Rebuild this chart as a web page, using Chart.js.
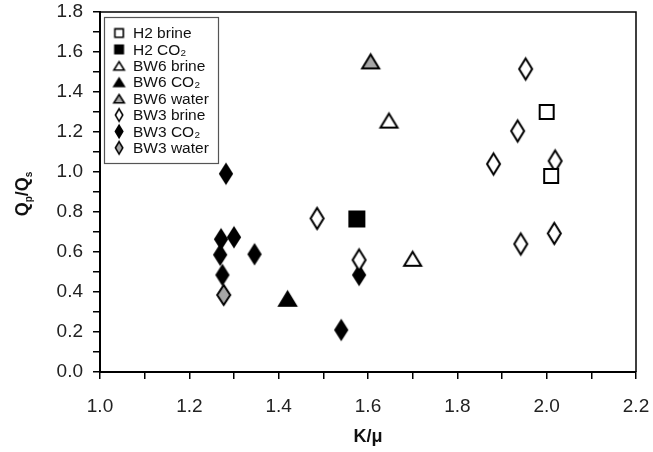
<!DOCTYPE html>
<html>
<head>
<meta charset="utf-8">
<script src="https://cdn.jsdelivr.net/npm/chart.js@4"></script>
<style>
  html, body { margin: 0; padding: 0; background: #fff; }
  #wrap { width: 653px; height: 452px; }
</style>
</head>
<body>
<div id="wrap"><canvas id="qChart"></canvas></div>
<script>
// K/mu (x) and Qp/Qs (y) for each core and fluid
const h2BrineK = [2.00, 2.01];
const h2BrineQ = [1.30, 0.98];
const h2Co2K = [1.575];
const h2Co2Q = [0.765];
const bw6BrineK = [1.647, 1.700];
const bw6BrineQ = [1.257, 0.566];
const bw6Co2K = [1.420];
const bw6Co2Q = [0.366];
const bw6WaterK = [1.606];
const bw6WaterQ = [1.553];
const bw3BrineK = [1.953, 1.935, 1.881, 2.019, 1.942, 2.017, 1.580, 1.486];
const bw3BrineQ = [1.515, 1.205, 1.040, 1.055, 0.640, 0.693, 0.560, 0.768];
const bw3Co2K = [1.282, 1.271, 1.300, 1.269, 1.346, 1.274, 1.580, 1.540];
const bw3Co2Q = [0.991, 0.664, 0.674, 0.586, 0.589, 0.485, 0.485, 0.210];
const bw3WaterK = [1.277];
const bw3WaterQ = [0.385];

const xTicks = { min: 1.0, max: 2.2, step: 0.1 };
const yTicks = { min: 0.0, max: 1.8, step: 0.1 };

const GRAY = '#a6a6a6';
const FONT = '"Liberation Sans", Arial, sans-serif';

// builds a small canvas used as a point style
function marker(shape, fill, w, h, lw) {
    const c = document.createElement('canvas');
    c.width = w + lw * 2;
    c.height = h + lw * 2;
    const g = c.getContext('2d');
    g.translate(lw, lw);
    g.beginPath();
    if (shape === 'square') {
        g.rect(lw / 2, lw / 2, w - lw, h - lw);
    } else if (shape === 'triangle') {
        g.moveTo(w / 2, lw / 2);
        g.lineTo(w - lw / 2, h - lw / 2);
        g.lineTo(lw / 2, h - lw / 2);
        g.closePath();
    } else {
        g.moveTo(w / 2, lw / 2);
        g.lineTo(w - lw / 2, h / 2);
        g.lineTo(w / 2, h - lw / 2);
        g.lineTo(lw / 2, h / 2);
        g.closePath();
    }
    g.fillStyle = fill;
    g.fill();
    g.lineJoin = 'miter';
    g.lineWidth = lw;
    g.strokeStyle = '#000';
    g.stroke();
    return c;
}

function pts(xs, ys) {
    return xs.map((x, i) => ({ x: x, y: ys[i] }));
}

const series = [
    { label: 'H2 brine',   xs: h2BrineK,  ys: h2BrineQ,  shape: 'square',   fill: '#fff', w: 16, h: 16 },
    { label: 'H2 CO₂',     xs: h2Co2K,    ys: h2Co2Q,    shape: 'square',   fill: '#000', w: 17, h: 17 },
    { label: 'BW6 brine',  xs: bw6BrineK, ys: bw6BrineQ, shape: 'triangle', fill: '#fff', w: 19, h: 16 },
    { label: 'BW6 CO₂',    xs: bw6Co2K,   ys: bw6Co2Q,   shape: 'triangle', fill: '#000', w: 19, h: 16 },
    { label: 'BW6 water',  xs: bw6WaterK, ys: bw6WaterQ, shape: 'triangle', fill: GRAY,   w: 19, h: 16 },
    { label: 'BW3 brine',  xs: bw3BrineK, ys: bw3BrineQ, shape: 'diamond',  fill: '#fff', w: 15, h: 23 },
    { label: 'BW3 CO₂',    xs: bw3Co2K,   ys: bw3Co2Q,   shape: 'diamond',  fill: '#000', w: 14, h: 21 },
    { label: 'BW3 water',  xs: bw3WaterK, ys: bw3WaterQ, shape: 'diamond',  fill: GRAY,   w: 15, h: 22 }
];

series.forEach(s => {
    s.icon = marker(s.shape, s.fill, s.w, s.h, 2);
    const small = s.shape === 'diamond' ? [9, 14] : s.shape === 'triangle' ? [12, 10] : [10, 10];
    s.legendIcon = marker(s.shape, s.fill, small[0], small[1], 1.6);
});

// boxed legend in the upper left corner of the plot
const boxLegend = {
    id: 'boxLegend',
    afterDraw(chart) {
        const ctx = chart.ctx;
        const a = chart.chartArea;
        const x0 = a.left + 4, y0 = a.top + 5, w = 114, h = 146;
        ctx.save();
        ctx.strokeStyle = '#555';
        ctx.lineWidth = 1.2;
        ctx.strokeRect(x0 + 0.5, y0 + 0.5, w, h);
        ctx.font = '15.5px ' + FONT;
        ctx.fillStyle = '#111';
        ctx.textBaseline = 'middle';
        series.forEach((s, i) => {
            const cy = y0 + 16 + i * 16.4;
            const img = s.legendIcon;
            ctx.drawImage(img, x0 + 15 - img.width / 2, cy - img.height / 2);
            ctx.fillText(s.label, x0 + 29, cy + 1);
        });
        ctx.restore();
    }
};

// frame on top/right plus both axis titles
const frameAndTitles = {
    id: 'frameAndTitles',
    afterDraw(chart) {
        const ctx = chart.ctx;
        const a = chart.chartArea;
        ctx.save();
        ctx.strokeStyle = '#000';
        ctx.lineWidth = 1.5;
        ctx.beginPath();
        ctx.moveTo(a.left, a.top);
        ctx.lineTo(a.right, a.top);
        ctx.lineTo(a.right, a.bottom);
        ctx.stroke();

        ctx.fillStyle = '#111';
        ctx.textAlign = 'center';
        ctx.textBaseline = 'alphabetic';
        ctx.font = 'bold 18px ' + FONT;
        ctx.fillText('K/μ', (a.left + a.right) / 2, 442);

        // Q_p/Q_s, rotated, with subscripts
        ctx.translate(28, (a.top + a.bottom) / 2 + 2);
        ctx.rotate(-Math.PI / 2);
        ctx.textAlign = 'left';
        const parts = [['Q', 18, 0], ['p', 10, 4], ['/Q', 18, 0], ['s', 10, 4]];
        let total = 0;
        parts.forEach(p => { ctx.font = 'bold ' + p[1] + 'px ' + FONT; total += ctx.measureText(p[0]).width; });
        let x = -total / 2;
        parts.forEach(p => {
            ctx.font = 'bold ' + p[1] + 'px ' + FONT;
            ctx.fillText(p[0], x, p[2]);
            x += ctx.measureText(p[0]).width;
        });
        ctx.restore();
    }
};

const tickFont = { family: FONT, size: 19 };
const evenLabel = v => (Math.round(v * 10) % 2 === 0 ? v.toFixed(1) : '');

new Chart(document.getElementById('qChart'), {
    type: 'scatter',
    data: {
        datasets: series.map(s => ({
            label: s.label,
            data: pts(s.xs, s.ys),
            pointStyle: s.icon,
            pointRadius: 10,
            pointHoverRadius: 10
        }))
    },
    options: {
        responsive: true,
        maintainAspectRatio: false,
        animation: false,
        layout: { padding: { left: 0, right: 17, top: 12, bottom: 0 } },
        plugins: {
            legend: { display: false },
            tooltip: { enabled: false }
        },
        scales: {
            x: {
                type: 'linear',
                min: xTicks.min,
                max: xTicks.max,
                afterFit: s => { s.height = 80; s.paddingLeft = 0; s.paddingRight = 0; },
                grid: { drawOnChartArea: false, drawTicks: true, tickLength: 7, color: '#000', lineWidth: 1.5 },
                border: { display: true, color: '#000', width: 2 },
                ticks: { stepSize: xTicks.step, autoSkip: false, maxRotation: 0, padding: 16, color: '#222', font: tickFont, callback: evenLabel }
            },
            y: {
                type: 'linear',
                min: yTicks.min,
                max: yTicks.max,
                afterFit: s => { s.width = 100; s.paddingTop = 0; s.paddingBottom = 0; },
                grid: { drawOnChartArea: false, drawTicks: true, tickLength: 7, color: '#000', lineWidth: 1.5 },
                border: { display: true, color: '#000', width: 2 },
                ticks: { stepSize: yTicks.step, autoSkip: false, padding: 10, color: '#222', font: tickFont, callback: evenLabel }
            }
        }
    },
    plugins: [boxLegend, frameAndTitles]
});
</script>
</body>
</html>
